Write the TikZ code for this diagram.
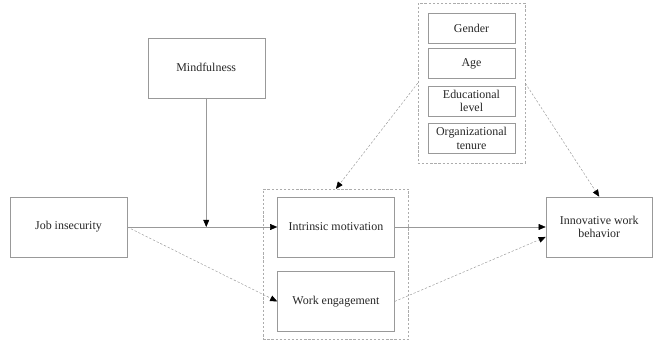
\documentclass[tikz,border=0pt]{standalone}
\usepackage{fontspec}
\setmainfont{Liberation Serif}
\usepackage{tikz}
\usetikzlibrary{positioning}
\usetikzlibrary{fit}
\usetikzlibrary{arrows.meta}

\begin{document}
\begin{tikzpicture}[
varnode/.style={rectangle, draw=gray!80, text=black!85, minimum width=3.51cm, minimum height=1.8cm, align=center, font=\fontsize{10.2}{11.5}\selectfont},
ctrlnode/.style={rectangle, draw=gray!80, text=black!85, minimum width=2.6cm, minimum height=0.9cm, align=center, inner sep=1pt, font=\fontsize{10.2}{11.5}\selectfont},
groupbox/.style={rectangle, draw=gray!65, dash pattern=on 2pt off 1.5pt},
tip/.style={-{Triangle[length=6pt,width=5pt,black]}, gray!80},
]
\useasboundingbox (-2.055,-3.42) rectangle (17.595,6.81);

%Nodes
\node[varnode] (job)                        {Job insecurity};
\node[varnode] (intr)  [right=4.5cm of job]   {Intrinsic motivation};
\node[varnode] (work)  [below=0.42cm of intr] {Work engagement};
\node[varnode, minimum width=3.2cm] (innov) [right=4.53cm of intr] {Innovative work\\behavior};
\coordinate[right=2.37cm of job.east] (tap);
\node[varnode] (mind)  [above=3.87cm of tap]  {Mindfulness};

\node[ctrlnode] (gender) at (12.09,5.97)      {Gender};
\node[ctrlnode] (age)  [below=0.15cm of gender] {Age};
\node[ctrlnode] (edu)  [below=0.21cm of age]    {Educational\\level};
\node[ctrlnode] (ten)  [below=0.21cm of edu]    {Organizational\\tenure};

%Boxes
\node[groupbox, fit=(intr)(work), inner xsep=0.42cm, inner ysep=0.23cm] (med) {};
\node[groupbox, fit=(gender)(ten), inner xsep=0.3cm, inner ysep=0.28cm] (ctrl) {};

%Lines
\draw[gray!80] (job.east) -- (tap);
\draw[tip] (tap) -- (intr.west);
\draw[tip] (mind.south) -- (tap);
\draw[tip] (intr.east) -- (innov.west);
\draw[tip, dash pattern=on 2pt off 1.5pt] (job.east) -- (work.west);
\draw[tip, dash pattern=on 2pt off 1.5pt] (work.east) -- ([yshift=-0.3cm]innov.west);
\draw[tip, dash pattern=on 2pt off 1.5pt] (ctrl.west) -- (med.north);
\draw[tip, dash pattern=on 2pt off 1.5pt] (ctrl.east) -- (innov.north);
\end{tikzpicture}
\end{document}
